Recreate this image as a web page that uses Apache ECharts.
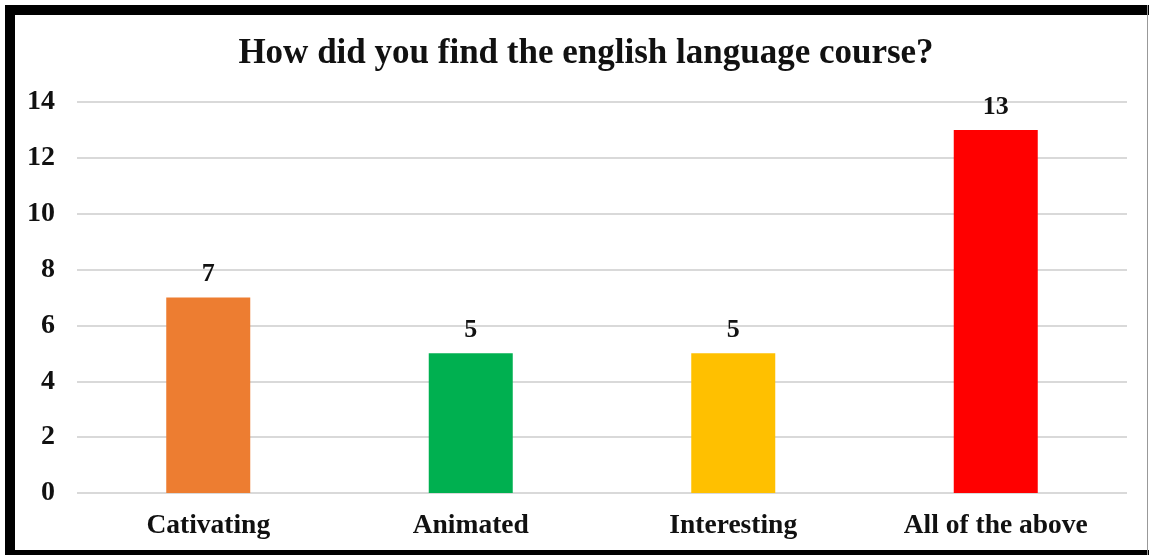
<!DOCTYPE html>
<html>
<head>
<meta charset="utf-8">
<script src="https://cdn.jsdelivr.net/npm/echarts@6/dist/echarts.min.js"></script>
<style>
html,body{margin:0;padding:0;background:#fff;}
#chart{position:absolute;left:0;top:0;width:1149px;height:555px;}
.b{position:absolute;background:#000;}
</style>
</head>
<body>
<div id="chart"></div>
<div class="b" style="left:5px;top:5px;width:1144px;height:10px;"></div>
<div class="b" style="left:5px;top:5px;width:10px;height:550px;"></div>
<div class="b" style="left:5px;top:550px;width:1144px;height:5px;"></div>
<div class="b" style="left:1147px;top:5px;width:1px;height:550px;background:#999;"></div>
<script>
const titleText = 'How did you find the english language course?';
const categories = ['Cativating', 'Animated', 'Interesting', 'All of the above'];
const values = [7, 5, 5, 13];
const colors = ['#ED7D31', '#00B050', '#FFC000', '#FF0000'];
const yTicks = { min: 0, max: 14, interval: 2 };

const font = "'Liberation Serif', 'Times New Roman', serif";
const chart = echarts.init(document.getElementById('chart'));
chart.setOption({
  backgroundColor: '#fff',
  animation: false,
  title: {
    text: titleText,
    left: 581,
    top: 31,
    textAlign: 'center',
    textStyle: { fontFamily: font, fontWeight: 'bold', fontSize: 35, color: '#111' }
  },
  grid: { left: 77, right: 22, top: 102, bottom: 62, containLabel: false },
  xAxis: {
    type: 'category',
    data: categories,
    axisLine: { show: false },
    axisTick: { show: false },
    axisLabel: { margin: 19, fontFamily: font, fontWeight: 'bold', fontSize: 27.5, color: '#111' }
  },
  yAxis: {
    type: 'value',
    min: yTicks.min, max: yTicks.max, interval: yTicks.interval,
    axisLine: { show: false },
    axisTick: { show: false },
    splitLine: { lineStyle: { color: '#d9d9d9', width: 2 } },
    axisLabel: { margin: 22, fontFamily: font, fontWeight: 'bold', fontSize: 28, color: '#111' }
  },
  series: [{
    type: 'bar',
    barWidth: 84,
    data: values.map((v, i) => ({ value: v, itemStyle: { color: colors[i] } })),
    label: {
      show: true, position: 'top', distance: 10,
      fontFamily: font, fontWeight: 'bold', fontSize: 26, color: '#111'
    }
  }]
});
</script>
</body>
</html>
